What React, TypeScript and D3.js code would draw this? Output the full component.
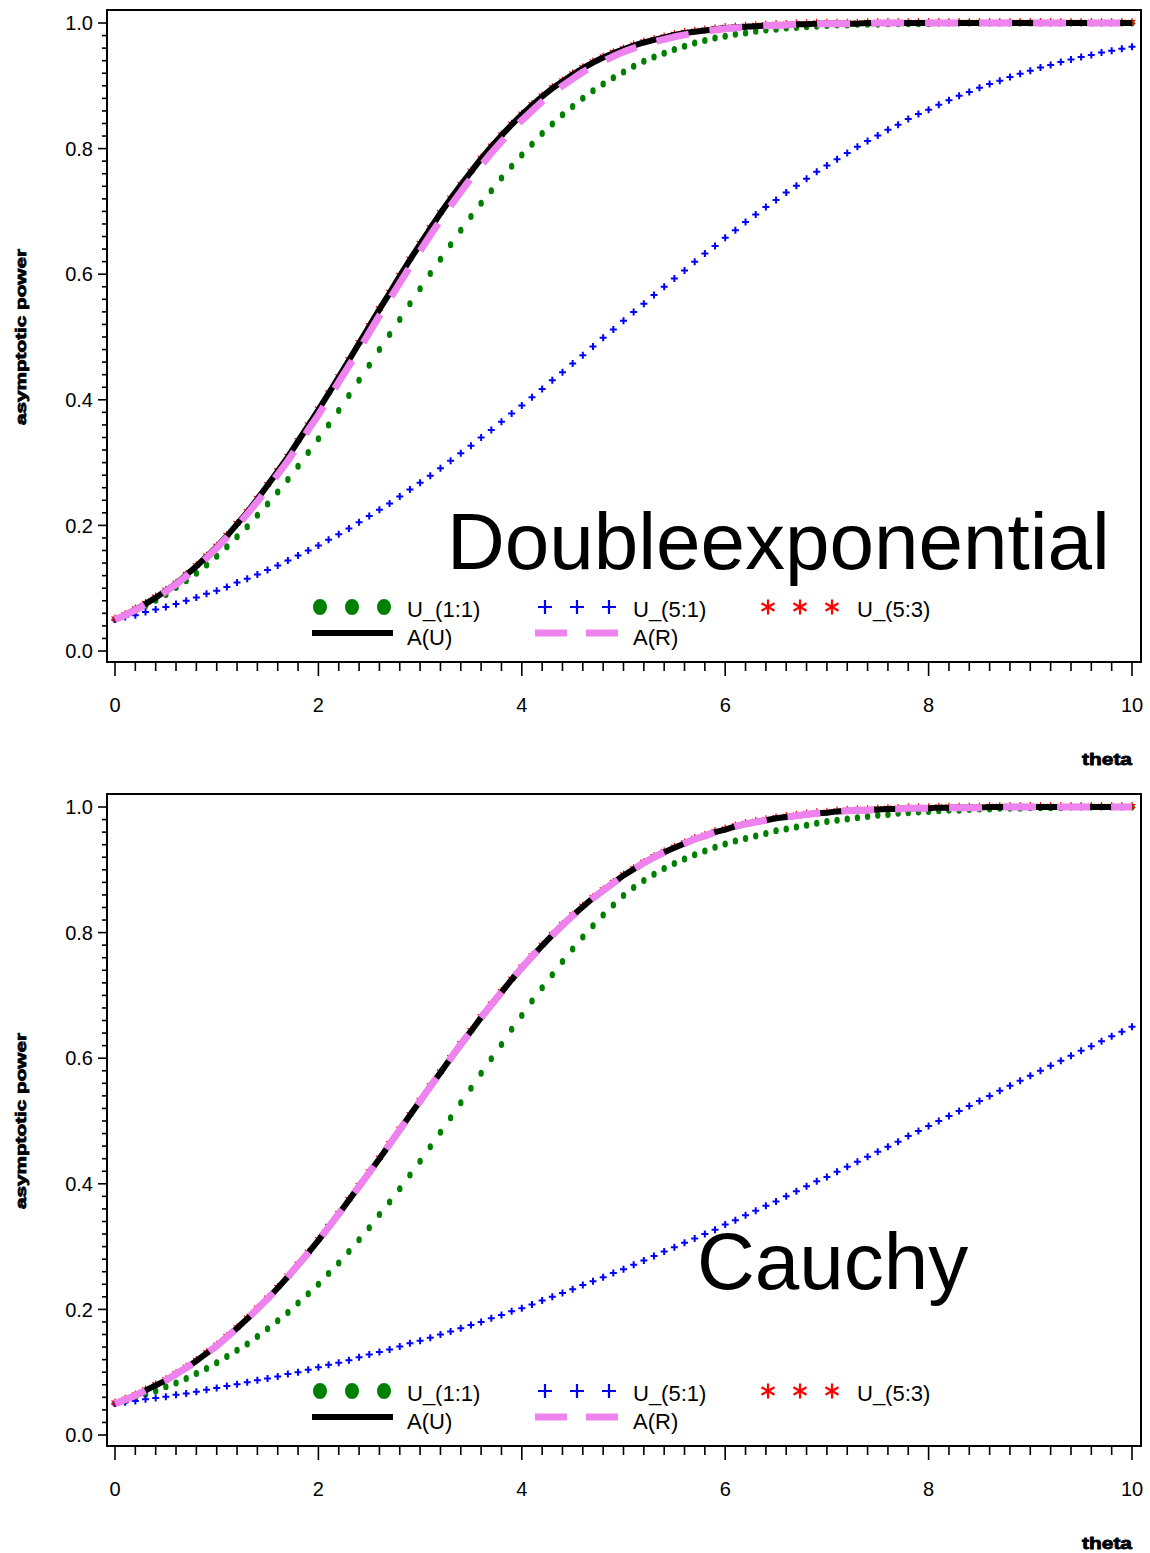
import React from 'react';
import * as d3 from 'd3';

// theta grid (x positions of the plotted points)
const THETA = d3.range(101).map((i) => i / 10);
const X_TICKS = [0, 2, 4, 6, 8, 10];
const Y_TICKS = [0, 0.2, 0.4, 0.6, 0.8, 1.0];
const X_MINOR = d3.range(51).map((i) => i * 0.2);
const Y_MINOR = d3.range(51).map((i) => i * 0.02);

// ---------- Double exponential panel ----------
const aUTop = [
  0.050, 0.057, 0.066, 0.075, 0.085, 0.096, 0.107, 0.121, 0.135, 0.150,
  0.166, 0.183, 0.202, 0.221, 0.242, 0.264, 0.286, 0.309, 0.334, 0.359,
  0.384, 0.410, 0.436, 0.463, 0.490, 0.517, 0.544, 0.570, 0.597, 0.623,
  0.648, 0.673, 0.697, 0.720, 0.742, 0.763, 0.784, 0.803, 0.821, 0.838,
  0.854, 0.869, 0.883, 0.896, 0.907, 0.918, 0.928, 0.937, 0.945, 0.952,
  0.958, 0.964, 0.969, 0.973, 0.977, 0.981, 0.984, 0.986, 0.988, 0.990,
  0.992, 0.993, 0.994, 0.995, 0.996, 0.997, 0.997, 0.998, 0.998, 0.999,
  0.999, 0.999, 0.999, 0.999, 1.000, 1.000, 1.000, 1.000, 1.000, 1.000,
  1.000, 1.000, 1.000, 1.000, 1.000, 1.000, 1.000, 1.000, 1.000, 1.000,
  1.000, 1.000, 1.000, 1.000, 1.000, 1.000, 1.000, 1.000, 1.000, 1.000,
  1.000,
];
const aRTop = [
  0.050, 0.057, 0.065, 0.074, 0.084, 0.095, 0.106, 0.119, 0.133, 0.148,
  0.164, 0.181, 0.199, 0.218, 0.238, 0.259, 0.281, 0.303, 0.327, 0.352,
  0.376, 0.402, 0.428, 0.454, 0.480, 0.507, 0.534, 0.560, 0.586, 0.612,
  0.637, 0.662, 0.686, 0.709, 0.731, 0.753, 0.773, 0.793, 0.811, 0.829,
  0.845, 0.860, 0.875, 0.888, 0.900, 0.911, 0.922, 0.931, 0.939, 0.947,
  0.954, 0.960, 0.965, 0.970, 0.974, 0.978, 0.981, 0.984, 0.987, 0.989,
  0.991, 0.992, 0.993, 0.995, 0.996, 0.996, 0.997, 0.998, 0.998, 0.998,
  0.999, 0.999, 0.999, 0.999, 0.999, 1.000, 1.000, 1.000, 1.000, 1.000,
  1.000, 1.000, 1.000, 1.000, 1.000, 1.000, 1.000, 1.000, 1.000, 1.000,
  1.000, 1.000, 1.000, 1.000, 1.000, 1.000, 1.000, 1.000, 1.000, 1.000,
  1.000,
];
const u11Top = [
  0.050, 0.057, 0.064, 0.072, 0.081, 0.090, 0.101, 0.112, 0.124, 0.137,
  0.151, 0.166, 0.182, 0.198, 0.216, 0.234, 0.253, 0.273, 0.294, 0.316,
  0.338, 0.360, 0.383, 0.407, 0.431, 0.455, 0.480, 0.504, 0.528, 0.553,
  0.577, 0.601, 0.624, 0.647, 0.670, 0.692, 0.713, 0.733, 0.753, 0.772,
  0.790, 0.807, 0.824, 0.839, 0.854, 0.867, 0.880, 0.892, 0.903, 0.913,
  0.922, 0.931, 0.939, 0.946, 0.952, 0.958, 0.963, 0.968, 0.972, 0.976,
  0.979, 0.982, 0.984, 0.987, 0.989, 0.990, 0.992, 0.993, 0.994, 0.995,
  0.996, 0.997, 0.997, 0.998, 0.998, 0.998, 0.999, 0.999, 0.999, 0.999,
  0.999, 1.000, 1.000, 1.000, 1.000, 1.000, 1.000, 1.000, 1.000, 1.000,
  1.000, 1.000, 1.000, 1.000, 1.000, 1.000, 1.000, 1.000, 1.000, 1.000,
  1.000,
];
const u51Top = [
  0.050, 0.054, 0.057, 0.062, 0.066, 0.070, 0.075, 0.080, 0.085, 0.091,
  0.096, 0.102, 0.109, 0.115, 0.122, 0.129, 0.136, 0.144, 0.152, 0.160,
  0.168, 0.177, 0.186, 0.195, 0.205, 0.215, 0.225, 0.235, 0.246, 0.257,
  0.268, 0.279, 0.291, 0.303, 0.315, 0.327, 0.340, 0.352, 0.365, 0.378,
  0.391, 0.404, 0.417, 0.431, 0.444, 0.458, 0.471, 0.485, 0.499, 0.512,
  0.526, 0.540, 0.553, 0.567, 0.580, 0.593, 0.606, 0.620, 0.633, 0.645,
  0.658, 0.670, 0.683, 0.695, 0.707, 0.718, 0.730, 0.741, 0.752, 0.763,
  0.773, 0.783, 0.793, 0.803, 0.812, 0.821, 0.830, 0.838, 0.847, 0.855,
  0.862, 0.870, 0.877, 0.884, 0.890, 0.897, 0.903, 0.908, 0.914, 0.919,
  0.924, 0.929, 0.933, 0.938, 0.942, 0.946, 0.949, 0.953, 0.956, 0.959,
  0.962,
];
// U_(5:3) lies on A(U) (only its marker tips show)
const u53Top = aUTop;

// ---------- Cauchy panel ----------
const aUBot = [
  0.050, 0.056, 0.063, 0.071, 0.079, 0.087, 0.097, 0.107, 0.118, 0.130,
  0.142, 0.156, 0.170, 0.185, 0.201, 0.217, 0.234, 0.252, 0.271, 0.290,
  0.310, 0.331, 0.352, 0.374, 0.396, 0.418, 0.440, 0.463, 0.486, 0.509,
  0.532, 0.555, 0.577, 0.600, 0.622, 0.643, 0.665, 0.685, 0.705, 0.725,
  0.744, 0.762, 0.779, 0.796, 0.812, 0.827, 0.841, 0.855, 0.867, 0.879,
  0.891, 0.901, 0.911, 0.920, 0.928, 0.935, 0.942, 0.949, 0.954, 0.960,
  0.964, 0.969, 0.973, 0.976, 0.979, 0.982, 0.984, 0.986, 0.988, 0.990,
  0.991, 0.993, 0.994, 0.995, 0.995, 0.996, 0.997, 0.997, 0.998, 0.998,
  0.998, 0.999, 0.999, 0.999, 0.999, 0.999, 1.000, 1.000, 1.000, 1.000,
  1.000, 1.000, 1.000, 1.000, 1.000, 1.000, 1.000, 1.000, 1.000, 1.000,
  1.000,
];
// A(R) coincides with A(U) in the Cauchy panel
const aRBot = aUBot;
const u11Bot = [
  0.050, 0.054, 0.059, 0.065, 0.070, 0.077, 0.083, 0.090, 0.098, 0.106,
  0.115, 0.125, 0.135, 0.145, 0.157, 0.169, 0.182, 0.195, 0.210, 0.225,
  0.240, 0.257, 0.274, 0.292, 0.311, 0.330, 0.351, 0.371, 0.392, 0.414,
  0.436, 0.459, 0.482, 0.505, 0.529, 0.552, 0.576, 0.599, 0.622, 0.646,
  0.668, 0.691, 0.712, 0.733, 0.754, 0.774, 0.793, 0.811, 0.828, 0.844,
  0.859, 0.872, 0.883, 0.893, 0.902, 0.910, 0.917, 0.924, 0.930, 0.936,
  0.941, 0.946, 0.950, 0.954, 0.958, 0.962, 0.965, 0.968, 0.971, 0.974,
  0.977, 0.979, 0.981, 0.983, 0.985, 0.987, 0.988, 0.990, 0.991, 0.992,
  0.993, 0.994, 0.995, 0.995, 0.996, 0.997, 0.997, 0.998, 0.998, 0.998,
  0.999, 0.999, 0.999, 0.999, 1.000, 1.000, 1.000, 1.000, 1.000, 1.000,
  1.000,
];
const u51Bot = [
  0.050, 0.052, 0.054, 0.057, 0.059, 0.061, 0.064, 0.066, 0.069, 0.072,
  0.075, 0.078, 0.081, 0.084, 0.087, 0.090, 0.093, 0.097, 0.100, 0.104,
  0.108, 0.112, 0.115, 0.119, 0.124, 0.128, 0.132, 0.136, 0.141, 0.146,
  0.150, 0.155, 0.160, 0.165, 0.170, 0.175, 0.180, 0.186, 0.191, 0.197,
  0.202, 0.208, 0.214, 0.220, 0.226, 0.232, 0.239, 0.245, 0.251, 0.258,
  0.264, 0.271, 0.278, 0.285, 0.292, 0.299, 0.306, 0.313, 0.320, 0.327,
  0.335, 0.342, 0.350, 0.357, 0.365, 0.372, 0.380, 0.388, 0.396, 0.404,
  0.411, 0.419, 0.427, 0.435, 0.443, 0.451, 0.459, 0.467, 0.476, 0.484,
  0.492, 0.500, 0.508, 0.516, 0.524, 0.532, 0.540, 0.548, 0.556, 0.564,
  0.572, 0.580, 0.588, 0.596, 0.604, 0.612, 0.619, 0.627, 0.635, 0.642,
  0.650,
];
const u53Bot = aUBot;

const LEGEND_LABELS = ['U_(1:1)', 'U_(5:1)', 'U_(5:3)', 'A(U)', 'A(R)'];
const FONT = '"Liberation Sans", Arial, Helvetica, sans-serif';

const GREEN = '#008000';
const BLUE = '#0000FF';
const RED = '#FF0000';
const PINK = '#EE82EE';

function plusPath(cx: number, cy: number, s: number) {
  return `M${cx - s},${cy}L${cx + s},${cy}M${cx},${cy - s}L${cx},${cy + s}`;
}
function starPath(cx: number, cy: number, s: number) {
  const a = s * 0.87;
  const b = s * 0.5;
  return (
    `M${cx},${cy - s}L${cx},${cy + s}` +
    `M${cx - a},${cy - b}L${cx + a},${cy + b}` +
    `M${cx - a},${cy + b}L${cx + a},${cy - b}`
  );
}

type PanelProps = {
  top: number;
  title: string;
  titleX: number;
  titleY: number;
  u11: number[];
  u51: number[];
  u53: number[];
  aU: number[];
  aR: number[];
};

function Panel({ top, title, titleX, titleY, u11, u51, u53, aU, aR }: PanelProps) {
  const x = d3.scaleLinear().domain([0, 10]).range([115, 1132]);
  const y = d3.scaleLinear().domain([0, 1]).range([top + 641, top + 13]);
  const frameL = 107;
  const frameR = 1141;
  const frameT = top;
  const frameB = top + 652;

  const line = d3
    .line<number>()
    .x((_, i) => x(THETA[i]))
    .y((d) => y(d));

  const lg1 = top + 597;
  const lg2 = top + 623;

  return (
    <g>
      {/* frame */}
      <rect
        x={frameL}
        y={frameT}
        width={frameR - frameL}
        height={frameB - frameT}
        fill="none"
        stroke="#000"
        strokeWidth={2}
      />
      {/* x ticks */}
      {X_MINOR.map((t, i) => (
        <line
          key={'xm' + i}
          x1={x(t)}
          x2={x(t)}
          y1={frameB}
          y2={frameB + (i % 10 === 0 ? 14 : 9)}
          stroke="#000"
          strokeWidth={1.6}
        />
      ))}
      {X_TICKS.map((t) => (
        <text
          key={'xl' + t}
          x={x(t)}
          y={top + 702}
          textAnchor="middle"
          fontSize={20}
          fontFamily={FONT}
        >
          {t}
        </text>
      ))}
      {/* y ticks */}
      {Y_MINOR.map((t, i) => (
        <line
          key={'ym' + i}
          x1={frameL}
          x2={frameL - (i % 10 === 0 ? 9 : 5)}
          y1={y(t)}
          y2={y(t)}
          stroke="#000"
          strokeWidth={1.6}
        />
      ))}
      {Y_TICKS.map((t) => (
        <text
          key={'yl' + t}
          x={93}
          y={y(t)}
          dy="0.36em"
          textAnchor="end"
          fontSize={20}
          fontFamily={FONT}
        >
          {t.toFixed(1)}
        </text>
      ))}
      {/* axis titles */}
      <text
        transform={`translate(26, ${(y(0) + y(1)) / 2}) rotate(-90)`}
        textAnchor="middle"
        fontSize={15}
        fontWeight="bold"
        fontFamily={FONT}
        textLength={176}
        lengthAdjust="spacingAndGlyphs"
        stroke="#000"
        strokeWidth={0.8}
      >
        asymptotic power
      </text>
      <text
        x={1082}
        y={top + 755}
        fontSize={17}
        fontWeight="bold"
        fontFamily={FONT}
        textLength={50}
        lengthAdjust="spacingAndGlyphs"
        stroke="#000"
        strokeWidth={0.8}
      >
        theta
      </text>

      {/* big panel title */}
      <text x={titleX} y={top + titleY} fontSize={80} fontFamily={FONT}>
        {title}
      </text>

      {/* U_(1:1): green dots */}
      {u11.map((v, i) => (
        <ellipse key={'g' + i} cx={x(THETA[i])} cy={y(v)} rx={2.7} ry={3.5} fill={GREEN} />
      ))}
      {/* U_(5:1): blue plus */}
      <path
        d={u51.map((v, i) => plusPath(x(THETA[i]), y(v), 3.5)).join('')}
        stroke={BLUE}
        strokeWidth={2}
        fill="none"
      />
      {/* U_(5:3): red asterisks */}
      <path
        d={u53.map((v, i) => starPath(x(THETA[i]), y(v) - 1, 4)).join('')}
        stroke={RED}
        strokeWidth={1.2}
        fill="none"
      />
      {/* A(U): black solid */}
      <path d={line(aU) || ''} fill="none" stroke="#000" strokeWidth={6} strokeLinejoin="round" />
      {/* A(R): violet dashed */}
      <path
        d={line(aR) || ''}
        fill="none"
        stroke={PINK}
        strokeWidth={7}
        strokeDasharray="33 21"
        strokeLinejoin="round"
      />

      {/* legend */}
      {[320, 352, 384].map((cx) => (
        <ellipse key={'lg' + cx} cx={cx} cy={lg1} rx={7} ry={8} fill={GREEN} />
      ))}
      {[545, 577, 609].map((cx) => (
        <path key={'lb' + cx} d={plusPath(cx, lg1, 7)} stroke={BLUE} strokeWidth={2.2} />
      ))}
      {[768, 800, 832].map((cx) => (
        <path key={'lr' + cx} d={starPath(cx, lg1, 7.5)} stroke={RED} strokeWidth={2.2} />
      ))}
      <line x1={312} x2={393} y1={lg2} y2={lg2} stroke="#000" strokeWidth={6} />
      <line x1={535} x2={567} y1={lg2} y2={lg2} stroke={PINK} strokeWidth={7} />
      <line x1={586} x2={618} y1={lg2} y2={lg2} stroke={PINK} strokeWidth={7} />
      <text x={407} y={lg1 + 10} fontSize={22} fontFamily={FONT}>
        {LEGEND_LABELS[0]}
      </text>
      <text x={633} y={lg1 + 10} fontSize={22} fontFamily={FONT}>
        {LEGEND_LABELS[1]}
      </text>
      <text x={857} y={lg1 + 10} fontSize={22} fontFamily={FONT}>
        {LEGEND_LABELS[2]}
      </text>
      <text x={407} y={lg2 + 12} fontSize={22} fontFamily={FONT}>
        {LEGEND_LABELS[3]}
      </text>
      <text x={633} y={lg2 + 12} fontSize={22} fontFamily={FONT}>
        {LEGEND_LABELS[4]}
      </text>
    </g>
  );
}

export default function App() {
  return (
    <svg
      width={1150}
      height={1553}
      style={{ position: 'absolute', left: 0, top: 0, display: 'block', background: '#fff' }}
    >
      <rect x={0} y={0} width={1150} height={1553} fill="#fff" />
      <Panel
        top={10}
        title="Doubleexponential"
        titleX={447}
        titleY={559}
        u11={u11Top}
        u51={u51Top}
        u53={u53Top}
        aU={aUTop}
        aR={aRTop}
      />
      <Panel
        top={794}
        title="Cauchy"
        titleX={697}
        titleY={495}
        u11={u11Bot}
        u51={u51Bot}
        u53={u53Bot}
        aU={aUBot}
        aR={aRBot}
      />
    </svg>
  );
}
